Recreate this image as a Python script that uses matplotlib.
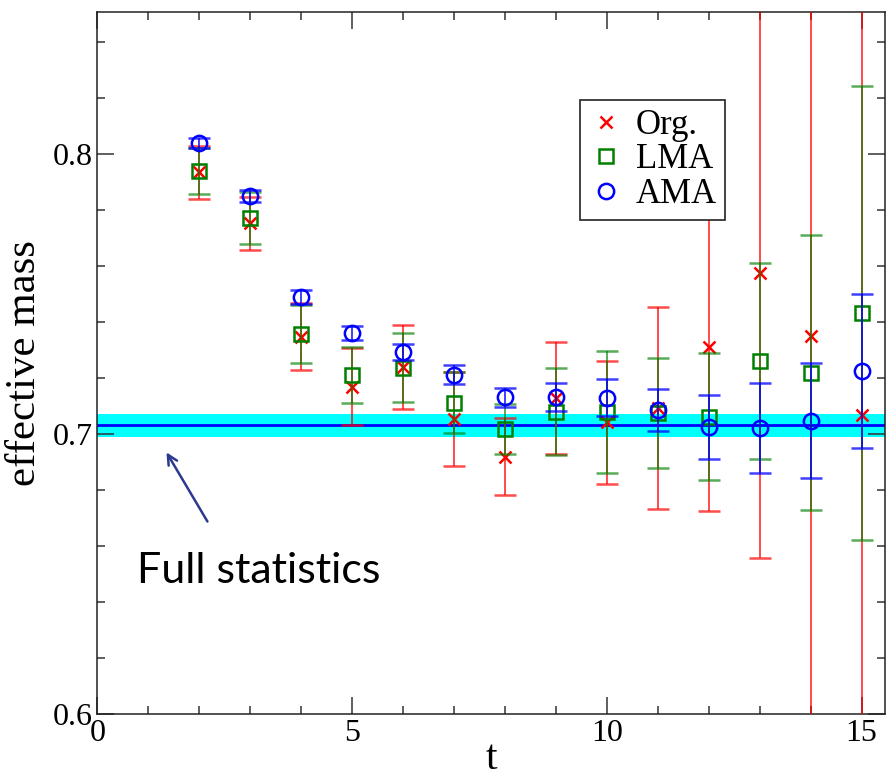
import matplotlib
matplotlib.use("Agg")
import matplotlib.pyplot as plt
from matplotlib.lines import Line2D
from matplotlib.ticker import MultipleLocator
import numpy as np

# ── Data ─────────────────────────────────────────────────────────────────────
t = np.arange(2, 16)

org     = [0.7934, 0.7752, 0.7348, 0.7169, 0.7241, 0.7054, 0.6919,
           0.7130, 0.7042, 0.7092, 0.7310, 0.7576, 0.7351, 0.7068]
org_err = [0.0094, 0.0095, 0.0120, 0.0137, 0.0150, 0.0167, 0.0137,
           0.0200, 0.0219, 0.0360, 0.0585, 0.1020, 0.2000, 0.2000]

lma     = [0.7940, 0.7770, 0.7358, 0.7212, 0.7237, 0.7112, 0.7018,
           0.7080, 0.7078, 0.7076, 0.7062, 0.7262, 0.7219, 0.7433]
lma_err = [0.0082, 0.0093, 0.0104, 0.0100, 0.0123, 0.0110, 0.0089,
           0.0154, 0.0217, 0.0196, 0.0226, 0.0350, 0.0490, 0.0810]

ama     = [0.8040, 0.7850, 0.7490, 0.7360, 0.7294, 0.7212, 0.7131,
           0.7133, 0.7130, 0.7086, 0.7026, 0.7022, 0.7047, 0.7225]
ama_err = [0.0018, 0.0020, 0.0024, 0.0026, 0.0029, 0.0033, 0.0035,
           0.0050, 0.0067, 0.0075, 0.0114, 0.0160, 0.0205, 0.0275]

full_mass = 0.7031
full_err  = 0.0040

# ── Plot ─────────────────────────────────────────────────────────────────────
plt.rcParams["font.family"] = ["Liberation Serif", "DejaVu Serif"]

fig = plt.figure(figsize=(8.86, 7.80), dpi=100)
ax = fig.add_axes([0.1098, 0.0846, 0.889, 0.8996])

ax.axhspan(full_mass - full_err, full_mass + full_err, color="#00ffff", lw=0, zorder=1)
ax.axhline(full_mass, color="#0000ff", lw=2, zorder=2)

eb = dict(capsize=8, elinewidth=1.4, capthick=1.4, linestyle="none")
ax.errorbar(t, org, yerr=org_err, color="red", ecolor=(1, 0, 0, 0.7),
            marker="x", ms=8, mew=1.8, zorder=3, **eb)
ax.errorbar(t, lma, yerr=lma_err, color="#008000", ecolor=(0, 0.5, 0, 0.65),
            marker="s", ms=10, mfc="none", mew=1.8, zorder=4, **eb)
ax.errorbar(t, ama, yerr=ama_err, color="#0000ff", ecolor=(0, 0, 1, 0.75),
            marker="o", ms=11, mfc="none", mew=1.8, zorder=5, **eb)

ax.set_xlim(0, 15.46)
ax.set_ylim(0.6, 0.8506)
ax.xaxis.set_major_locator(MultipleLocator(5))
ax.xaxis.set_minor_locator(MultipleLocator(1))
ax.yaxis.set_major_locator(MultipleLocator(0.1))
ax.yaxis.set_minor_locator(MultipleLocator(0.02))
ax.tick_params(which="both", direction="in", top=True, right=True,
               width=1.1, color="#333333", labelsize=23)
ax.tick_params(which="major", length=12)
ax.tick_params(which="minor", length=6)
for s in ax.spines.values():
    s.set_linewidth(1.1)
    s.set_color("#222222")

ax.set_xlabel("t", fontsize=30, labelpad=-6)
ax.set_ylabel("effective mass", fontsize=31, labelpad=6)

# legend shows markers only
handles = [
    Line2D([], [], ls="none", marker="x", color="red", ms=8, mew=1.8),
    Line2D([], [], ls="none", marker="s", color="#008000", mfc="none", ms=10, mew=1.8),
    Line2D([], [], ls="none", marker="o", color="#0000ff", mfc="none", ms=11, mew=1.8),
]
leg = ax.legend(handles, ["Org.", "LMA", "AMA"], loc="upper left",
                bbox_to_anchor=(0.613, 0.875), borderaxespad=0,
                fontsize=25, frameon=True, fancybox=False, edgecolor="#222222",
                framealpha=1, handletextpad=0.35, labelspacing=0.05,
                borderpad=0.25, handlelength=1.0)
leg.get_frame().set_linewidth(1.2)
leg.set_zorder(10)

ax.annotate("", xy=(1.33, 0.6943), xytext=(2.19, 0.6679),
            arrowprops=dict(arrowstyle="->,head_length=0.7,head_width=0.35",
                            color="#2b3990", lw=1.8), zorder=6)
ax.text(0.78, 0.6468, "Full statistics", family=["Lato", "DejaVu Sans"],
        fontsize=31, ha="left", va="baseline", zorder=6)

fig.savefig("out.png", dpi=100)
